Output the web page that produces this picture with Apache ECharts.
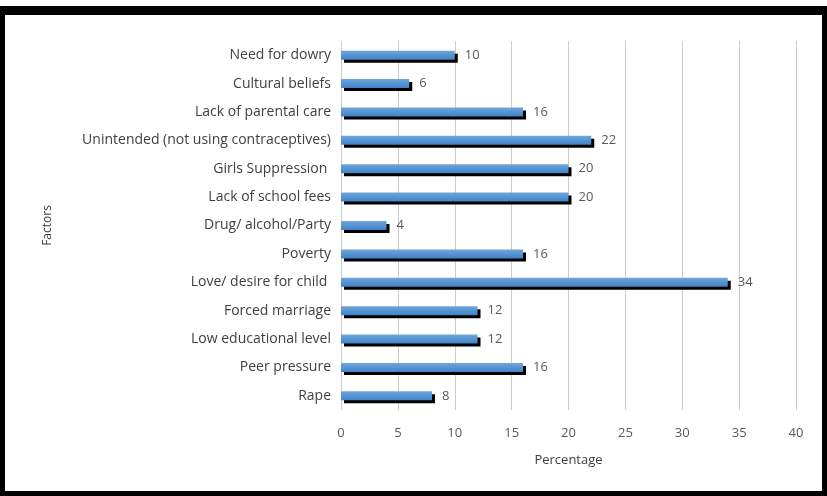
<!DOCTYPE html>
<html><head><meta charset="utf-8">
<script src="https://cdn.jsdelivr.net/npm/echarts@6/dist/echarts.min.js"></script>
<style>
html,body{margin:0;padding:0;background:#fff;}
#frame{position:absolute;left:0;top:6px;width:817px;height:476px;border:5px solid #000;border-top-width:9px;border-bottom-width:8px;}
#c{position:absolute;left:0;top:0;width:827px;height:496px;}
</style></head>
<body>
<div id="frame"></div>
<div id="c"></div>
<script>
const categories = ["Need for dowry","Cultural beliefs","Lack of parental care","Unintended (not using contraceptives)","Girls Suppression ","Lack of school fees","Drug/ alcohol/Party","Poverty","Love/ desire for child ","Forced marriage","Low educational level","Peer pressure","Rape"];
const values = [10,6,16,22,20,20,4,16,34,12,12,16,8];
const xTicks = [0,5,10,15,20,25,30,35,40];

const chart = echarts.init(document.getElementById('c'));
chart.setOption({
  animation:false,
  grid:{left:341,right:31,top:41,bottom:86},
  xAxis:{type:'value',min:0,max:40,interval:5,
    name:'Percentage',nameLocation:'middle',nameGap:44,
    nameTextStyle:{color:'#404040',fontSize:13,fontFamily:'Open Sans'},
    axisLine:{show:false},axisTick:{show:false},
    axisLabel:{color:'#595959',fontSize:13,fontFamily:'Open Sans',margin:17},
    splitLine:{lineStyle:{color:'#cccccc',width:1}}},
  yAxis:{type:'category',data:categories,inverse:true,
    name:'Factors',nameLocation:'middle',nameGap:287,nameRotate:90,
    nameTextStyle:{color:'#404040',fontSize:12,fontFamily:'Open Sans'},
    axisLine:{show:false},axisTick:{show:false},
    axisLabel:{color:'#404040',fontSize:14,fontFamily:'Open Sans',margin:10}},
  series:[{type:'bar',data:values,barWidth:9,
    itemStyle:{color:new echarts.graphic.LinearGradient(0,0,0,1,[{offset:0,color:'#6fa6dc'},{offset:1,color:'#3f83c8'}]),
      shadowColor:'#000',shadowOffsetX:3,shadowOffsetY:3,shadowBlur:0},
    label:{show:true,position:'right',distance:10,color:'#595959',fontSize:13,fontFamily:'Open Sans'}}]
});
</script>
</body></html>
